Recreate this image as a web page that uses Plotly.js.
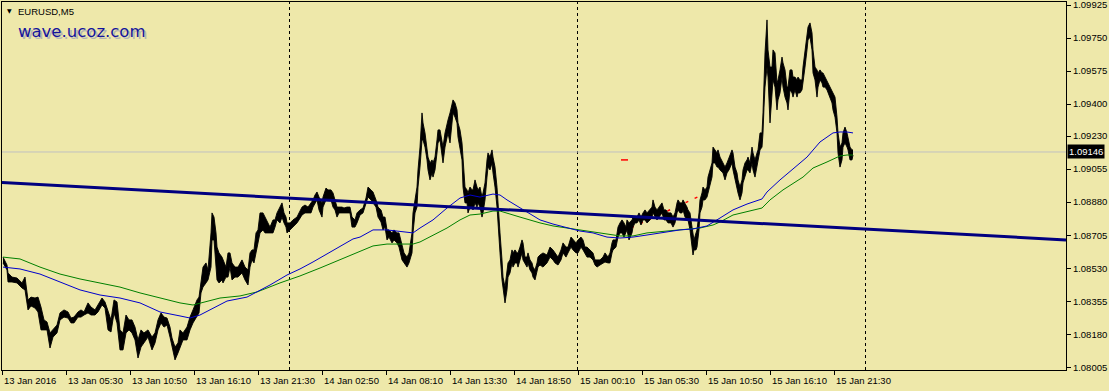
<!DOCTYPE html>
<html><head><meta charset="utf-8">
<script src="https://cdn.plot.ly/plotly-3.0.1.min.js"></script>
<style>html,body{margin:0;padding:0;background:#EEE8AA;}#chart{width:1109px;height:391px;}</style>
</head><body><div id="chart"></div>
<script>
// EURUSD M5 bars (bar index from 13 Jan 2016 00:00), sampled highs / lows
const bars = [
1,5,6,10,15,20,23,26,29,33,36,39,42,45,48,51,55,58,62,66,69,72,76,79,82,86,89,93,96,100,103,106,109,112,115,118,121,124,127,130,133,136,139,142,146,150,153,156,159,162,165,168,170,173,176,
178,181,185,188,191,195,197,199,201,204,206,209,210,212,214,215,217,220,221,224,226,228,230,233,236,240,243,246,248,250,252,254,256,258,261,263,265,268,271,273,275,278,280,282,284,285,288,291,295,297,300,303,306,309,311,313,315,317,320,321,324,326,329,331,333,335,337,340,342,345,348,350,353,355,
358,361,364,366,369,371,374,376,379,381,383,385,387,390,392,395,397,400,402,405,407,410,411,413,415,416,418,420,421,423,425,426,428,430,431,433,435,436,438,440,441,443,445,446,448,450,451,453,455,456,458,460,461,463,465,466,468,470,471,473,475,476,478,480,481,483,485,486,488,490,491,493,495,496,498,500,501,503,505,506,508,510,511,513,515,516,518,520,521,523,525,526,528,530,531,533,535,536,
538,541,545,548,551,553,556,559,561,564,566,569,571,574,576,579,581,583,585,588,591,593,595,598,601,603,606,608,610,611,614,616,618,620,622,624,625,627,630,631,633,635,637,639,641,643,645,648,650,651,653,655,657,660,662,664,666,669,671,673,675,676,678,680,681,683,685,686,688,690,691,692,694,695,697,698,700,701,703,705,706,708,710,711,713,715,716,
718,721,723,725,727,730,731,733,735,736,738,740,741,743,745,746,748,750,751,753,755,756,758,760,761,762,763,765,766,768,770,771,773,775,776,778,780,781,783,785,786,788,790,791,793,795,796,798,800,801,803,805,806,808,810,811,813,815,816,818,820,821,823,825,826,828,830,831,833,835,836,838,840,841,843,845,846,848,850,851
];
const highs = [
1.08589,1.08547,1.08505,1.08483,1.08478,1.08452,1.08483,1.08362,1.08377,1.08372,1.08377,1.08324,1.08256,1.08245,1.08187,1.08203,1.08229,1.08293,1.08309,1.08298,1.08266,1.08271,1.08298,1.08309,1.08298,1.08346,1.08324,1.08309,1.08335,1.08372,1.08351,1.08309,1.08256,1.08362,1.08351,1.08203,1.08187,1.08282,1.08256,1.08256,1.08218,1.08150,1.08203,1.08187,1.08203,1.08165,1.08187,1.08256,1.08293,1.08271,1.08266,1.08218,1.08160,1.08112,1.08134,
1.08203,1.08187,1.08218,1.08271,1.08309,1.08362,1.08377,1.08468,1.08536,1.08558,1.08521,1.08717,1.08823,1.08801,1.08717,1.08642,1.08611,1.08589,1.08574,1.08536,1.08611,1.08611,1.08558,1.08536,1.08536,1.08574,1.08536,1.08521,1.08611,1.08627,1.08627,1.08717,1.08733,1.08823,1.08823,1.08801,1.08786,1.08748,1.08786,1.08786,1.08823,1.08854,1.08876,1.08823,1.08801,1.08770,1.08770,1.08786,1.08801,1.08823,1.08854,1.08865,1.08854,1.08876,1.08892,1.08918,1.08934,1.08907,1.08876,1.08907,1.08955,1.08945,1.08945,1.08929,1.08892,1.08854,1.08854,1.08854,1.08849,1.08854,1.08854,1.08801,1.08786,1.08823,
1.08839,1.08849,1.08902,1.08960,1.08945,1.08934,1.08892,1.08854,1.08839,1.08801,1.08801,1.08733,1.08733,1.08717,1.08733,1.08717,1.08717,1.08642,1.08611,1.08589,1.08611,1.08717,1.08823,1.08892,1.08960,1.09051,1.09172,1.09353,1.09300,1.09247,1.09172,1.09119,1.09088,1.09104,1.09088,1.09119,1.09210,1.09263,1.09263,1.09210,1.09172,1.09247,1.09300,1.09316,1.09353,1.09406,1.09422,1.09406,1.09369,1.09300,1.09263,1.09194,1.09104,1.08960,1.08945,1.08929,1.08960,1.08945,1.08945,1.08998,1.08960,1.08945,1.08960,1.08907,1.08929,1.08982,1.09104,1.09141,1.09119,1.09157,1.09119,1.09066,1.08960,1.08854,1.08717,1.08574,1.08483,1.08430,1.08505,1.08558,1.08574,1.08627,1.08611,1.08627,1.08611,1.08611,1.08642,1.08680,1.08664,1.08589,1.08589,1.08611,1.08574,1.08558,1.08536,1.08521,1.08558,1.08589,
1.08600,1.08611,1.08600,1.08642,1.08627,1.08611,1.08589,1.08627,1.08664,1.08642,1.08642,1.08695,1.08680,1.08664,1.08680,1.08695,1.08680,1.08642,1.08642,1.08627,1.08611,1.08574,1.08574,1.08574,1.08589,1.08611,1.08589,1.08611,1.08664,1.08680,1.08680,1.08748,1.08770,1.08786,1.08770,1.08748,1.08786,1.08770,1.08786,1.08801,1.08801,1.08801,1.08823,1.08801,1.08823,1.08839,1.08823,1.08839,1.08854,1.08892,1.08854,1.08839,1.08854,1.08876,1.08839,1.08839,1.08823,1.08823,1.08801,1.08823,1.08876,1.08892,1.08876,1.08876,1.08892,1.08876,1.08854,1.08839,1.08823,1.08748,1.08717,1.08680,1.08717,1.08733,1.08823,1.08892,1.08929,1.08960,1.08945,1.08960,1.09013,1.09051,1.09088,1.09172,1.09157,1.09141,1.09157,
1.09119,1.09088,1.09066,1.09088,1.09119,1.09157,1.09141,1.09066,1.09035,1.08998,1.08960,1.08998,1.09051,1.09088,1.09104,1.09119,1.09088,1.09172,1.09141,1.09104,1.09141,1.09157,1.09247,1.09247,1.09353,1.09528,1.09671,1.09846,1.09687,1.09596,1.09596,1.09687,1.09671,1.09512,1.09528,1.09581,1.09649,1.09618,1.09581,1.09490,1.09490,1.09581,1.09581,1.09543,1.09543,1.09528,1.09543,1.09528,1.09528,1.09596,1.09687,1.09777,1.09808,1.09830,1.09777,1.09687,1.09596,1.09581,1.09565,1.09581,1.09565,1.09565,1.09543,1.09528,1.09512,1.09490,1.09475,1.09459,1.09437,1.09331,1.09247,1.09172,1.09194,1.09247,1.09278,1.09247,1.09225,1.09172,1.09157,1.09157
];
const lows = [
1.08558,1.08521,1.08457,1.08457,1.08452,1.08425,1.08415,1.08309,1.08330,1.08319,1.08298,1.08203,1.08203,1.08203,1.08107,1.08165,1.08187,1.08256,1.08271,1.08266,1.08240,1.08240,1.08271,1.08271,1.08282,1.08293,1.08282,1.08282,1.08298,1.08335,1.08319,1.08203,1.08192,1.08293,1.08240,1.08097,1.08097,1.08187,1.08203,1.08187,1.08150,1.08054,1.08112,1.08134,1.08165,1.08097,1.08134,1.08203,1.08240,1.08218,1.08229,1.08165,1.08112,1.08044,1.08081,
1.08112,1.08150,1.08150,1.08203,1.08240,1.08271,1.08293,1.08399,1.08430,1.08452,1.08468,1.08536,1.08680,1.08680,1.08536,1.08468,1.08452,1.08468,1.08452,1.08483,1.08483,1.08536,1.08468,1.08483,1.08483,1.08505,1.08468,1.08441,1.08536,1.08574,1.08558,1.08611,1.08680,1.08717,1.08733,1.08717,1.08717,1.08717,1.08717,1.08748,1.08786,1.08770,1.08801,1.08770,1.08748,1.08717,1.08733,1.08748,1.08770,1.08786,1.08812,1.08823,1.08823,1.08823,1.08854,1.08876,1.08892,1.08839,1.08801,1.08854,1.08892,1.08892,1.08892,1.08854,1.08839,1.08801,1.08823,1.08823,1.08823,1.08823,1.08823,1.08748,1.08748,1.08770,
1.08812,1.08823,1.08876,1.08907,1.08892,1.08876,1.08854,1.08801,1.08775,1.08733,1.08748,1.08680,1.08695,1.08664,1.08680,1.08664,1.08642,1.08574,1.08558,1.08536,1.08558,1.08611,1.08717,1.08823,1.08854,1.08960,1.09066,1.09210,1.09210,1.09172,1.09104,1.09051,1.08998,1.09035,1.09013,1.09051,1.09141,1.09194,1.09210,1.09141,1.09088,1.09172,1.09225,1.09247,1.09194,1.09316,1.09353,1.09331,1.09300,1.09225,1.09172,1.09104,1.08960,1.08876,1.08876,1.08823,1.08854,1.08854,1.08839,1.08876,1.08854,1.08876,1.08854,1.08801,1.08823,1.08892,1.09013,1.09066,1.09051,1.09088,1.09035,1.08960,1.08854,1.08748,1.08611,1.08468,1.08415,1.08346,1.08415,1.08483,1.08505,1.08558,1.08536,1.08558,1.08558,1.08536,1.08574,1.08611,1.08574,1.08558,1.08536,1.08558,1.08521,1.08505,1.08483,1.08468,1.08505,1.08536,
1.08547,1.08536,1.08558,1.08589,1.08574,1.08558,1.08547,1.08574,1.08611,1.08589,1.08611,1.08642,1.08627,1.08611,1.08611,1.08642,1.08627,1.08611,1.08589,1.08589,1.08574,1.08547,1.08536,1.08547,1.08558,1.08563,1.08558,1.08558,1.08611,1.08627,1.08642,1.08695,1.08717,1.08717,1.08695,1.08717,1.08733,1.08680,1.08717,1.08748,1.08770,1.08770,1.08786,1.08759,1.08786,1.08786,1.08770,1.08786,1.08801,1.08823,1.08801,1.08786,1.08801,1.08823,1.08786,1.08786,1.08770,1.08770,1.08748,1.08770,1.08823,1.08839,1.08823,1.08823,1.08839,1.08801,1.08786,1.08786,1.08733,1.08642,1.08600,1.08627,1.08627,1.08642,1.08733,1.08823,1.08854,1.08892,1.08892,1.08907,1.08929,1.08960,1.09013,1.09088,1.09088,1.09066,1.09066,
1.09051,1.09035,1.08998,1.09035,1.09051,1.09088,1.09051,1.08998,1.08960,1.08929,1.08892,1.08929,1.08982,1.09013,1.09051,1.09051,1.09035,1.09088,1.09051,1.09013,1.09066,1.09104,1.09157,1.09172,1.09247,1.09384,1.09490,1.09596,1.09543,1.09300,1.09422,1.09528,1.09490,1.09369,1.09422,1.09459,1.09543,1.09490,1.09437,1.09406,1.09369,1.09475,1.09459,1.09437,1.09475,1.09437,1.09459,1.09459,1.09475,1.09528,1.09596,1.09687,1.09740,1.09755,1.09687,1.09565,1.09528,1.09437,1.09490,1.09528,1.09512,1.09490,1.09490,1.09475,1.09459,1.09437,1.09406,1.09369,1.09331,1.09247,1.09141,1.09066,1.09104,1.09172,1.09194,1.09172,1.09157,1.09104,1.09104,1.09130
];
// Moving averages
const maFastBars = [1,18,38,58,78,98,118,138,158,178,188,198,211,225,245,255,268,285,298,311,325,338,351,358,371,385,398,411,418,431,445,458,468,478,491,498,505,518,531,538,551,565,578,591,605,618,631,645,658,678,691,705,718,731,745,760,765,778,791,805,818,831,838,845,851];
const maFast = [1.08536,1.08526,1.08499,1.08457,1.08415,1.08388,1.08372,1.08346,1.08298,1.08277,1.08266,1.08282,1.08319,1.08356,1.08377,1.08404,1.08441,1.08494,1.08526,1.08563,1.08605,1.08642,1.08685,1.08695,1.08733,1.08733,1.08727,1.08717,1.08743,1.08786,1.08849,1.08902,1.08918,1.08907,1.08923,1.08918,1.08892,1.08849,1.08807,1.08786,1.08764,1.08743,1.08727,1.08717,1.08695,1.08690,1.08695,1.08706,1.08717,1.08733,1.08738,1.08754,1.08796,1.08839,1.08870,1.08897,1.08934,1.08998,1.09056,1.09119,1.09199,1.09247,1.09252,1.09252,1.09247];
const maSlowBars = [1,18,38,58,78,98,118,138,158,178,191,205,218,238,255,278,298,318,338,358,371,385,398,411,418,431,445,458,468,478,491,498,505,518,538,551,565,578,598,618,631,645,665,685,698,711,718,731,748,760,768,781,801,811,825,838,845,851];
const maSlow = [1.08589,1.08579,1.08536,1.08499,1.08473,1.08452,1.08430,1.08399,1.08372,1.08346,1.08335,1.08356,1.08372,1.08383,1.08404,1.08452,1.08489,1.08531,1.08574,1.08616,1.08648,1.08658,1.08658,1.08658,1.08669,1.08706,1.08743,1.08786,1.08812,1.08817,1.08833,1.08833,1.08823,1.08801,1.08770,1.08754,1.08743,1.08733,1.08717,1.08701,1.08701,1.08717,1.08727,1.08738,1.08743,1.08759,1.08775,1.08812,1.08833,1.08849,1.08892,1.08945,1.09013,1.09061,1.09093,1.09125,1.09130,1.09130];
// Trendline and red objects
const trendBars = [0, 1064];
const trendPrices = [1.08984, 1.08680];
const redLineBars = [620, 698];
const redLinePrices = [1.08722, 1.08913];
const redDashBars = [619, 626];
const redDashPrices = [1.09104, 1.09104];
const daySeparators = [287.5, 575.5, 863.5];
const lastPrice = 1.09146;
const xTickBars = [0,64,128,192,256,320,384,448,512,576,640,704,768,832];
const xTickLabels = ["13 Jan 2016","13 Jan 05:30","13 Jan 10:50","13 Jan 16:10","13 Jan 21:30","14 Jan 02:50","14 Jan 08:10","14 Jan 13:30","14 Jan 18:50","15 Jan 00:10","15 Jan 05:30","15 Jan 10:50","15 Jan 16:10","15 Jan 21:30"];
const yTickVals = [1.09925,1.09750,1.09575,1.09400,1.09230,1.09055,1.08880,1.08705,1.08530,1.08355,1.08180,1.08005];
const yTickLabels = ["1.09925","1.09750","1.09575","1.09400","1.09230","1.09055","1.08880","1.08705","1.08530","1.08355","1.08180","1.08005"];

const FONT = 'Liberation Sans, Arial, sans-serif';
const traces = [
  {x: redLineBars, y: redLinePrices, mode: 'lines', line: {color: '#FF0000', width: 1.5, dash: '3px,7px'}},
  {x: bars, y: lows, mode: 'lines', line: {color: '#000000', width: 0.9}},
  {x: bars, y: highs, mode: 'lines', fill: 'tonexty', fillcolor: '#000000', line: {color: '#000000', width: 0.9}},
  {x: maSlowBars, y: maSlow, mode: 'lines', line: {color: '#008000', width: 1}},
  {x: maFastBars, y: maFast, mode: 'lines', line: {color: '#0000CD', width: 1}},
  {x: trendBars, y: trendPrices, mode: 'lines', line: {color: '#000080', width: 3}},
  {x: redDashBars, y: redDashPrices, mode: 'lines', line: {color: '#FF0000', width: 1.5}}
];

const shapes = daySeparators.map(b => ({type: 'line', xref: 'x', yref: 'paper', x0: b, x1: b, y0: 0, y1: 1,
  line: {color: '#000000', width: 1, dash: '3px,3px'}, layer: 'below'}));
shapes.push({type: 'line', xref: 'paper', yref: 'y', x0: 0, x1: 1, y0: lastPrice, y1: lastPrice,
  line: {color: '#C0C0C0', width: 1}, layer: 'below'});

const annotations = xTickBars.map((b, i) => ({x: b, xref: 'x', y: 0, yref: 'paper', xanchor: 'left', yanchor: 'top',
  yshift: -3, text: xTickLabels[i], showarrow: false, font: {family: FONT, size: 9.5, color: '#000000'}}));
annotations.push({x: 1, xref: 'paper', y: lastPrice, yref: 'y', xanchor: 'left', yanchor: 'middle', xshift: 1,
  text: lastPrice.toFixed(5), showarrow: false, bgcolor: '#000000', borderpad: 1,
  font: {family: FONT, size: 9.5, color: '#FFFFFF'}});
annotations.push({x: 0, xref: 'paper', y: 1, yref: 'paper', xanchor: 'left', yanchor: 'top', xshift: 3, yshift: -3,
  text: '▼', showarrow: false, font: {family: 'DejaVu Sans', size: 6, color: '#000000'}});
annotations.push({x: 0, xref: 'paper', y: 1, yref: 'paper', xanchor: 'left', yanchor: 'top', xshift: 14, yshift: -2,
  text: 'EURUSD,M5', showarrow: false, font: {family: FONT, size: 9.5, color: '#000000'}});
annotations.push({x: 0, xref: 'paper', y: 1, yref: 'paper', xanchor: 'left', yanchor: 'top', xshift: 16, yshift: -20,
  text: 'wave.ucoz.com', showarrow: false, font: {family: 'DejaVu Sans', size: 16.5, color: '#B4B4B4'}});
annotations.push({x: 0, xref: 'paper', y: 1, yref: 'paper', xanchor: 'left', yanchor: 'top', xshift: 14, yshift: -18,
  text: 'wave.ucoz.com', showarrow: false, font: {family: 'DejaVu Sans', size: 16.5, color: '#14149C'}});

const layout = {
  width: 1109, height: 391,
  margin: {l: 2, r: 43, t: 2, b: 21, pad: 0},
  paper_bgcolor: '#EEE8AA', plot_bgcolor: '#EEE8AA',
  showlegend: false, hovermode: false,
  xaxis: {range: [0, 1064], showgrid: false, zeroline: false, showline: true, linecolor: '#000000', linewidth: 1,
    mirror: true, ticks: 'outside', ticklen: 4, tickcolor: '#000000', tickvals: xTickBars, showticklabels: false},
  yaxis: {side: 'right', range: [1.079905, 1.099409], showgrid: false, zeroline: false, showline: true,
    linecolor: '#000000', linewidth: 1, mirror: true, ticks: 'outside', ticklen: 4, tickcolor: '#000000',
    tickvals: yTickVals, ticktext: yTickLabels, ticklabeloverflow: 'allow',
    tickfont: {family: FONT, size: 9.5, color: '#000000'}},
  shapes: shapes,
  annotations: annotations
};
Plotly.newPlot('chart', traces, layout, {displayModeBar: false, staticPlot: true});
</script></body></html>
